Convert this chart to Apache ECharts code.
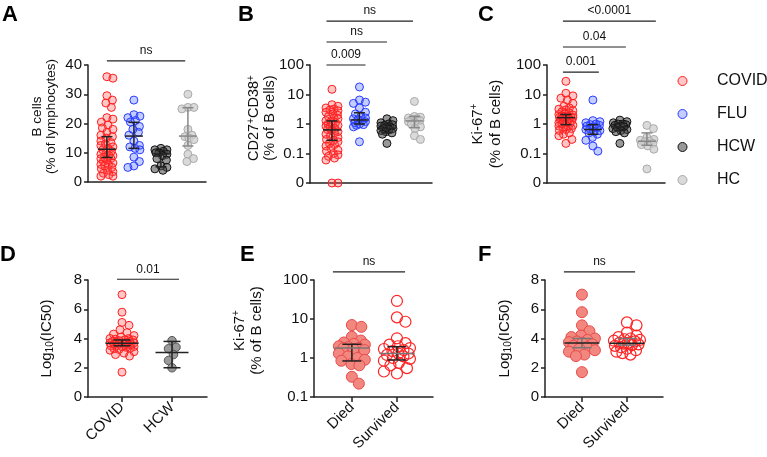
<!DOCTYPE html>
<html><head><meta charset="utf-8">
<script src="https://cdn.jsdelivr.net/npm/echarts@6/dist/echarts.min.js"></script>
<style>html,body{margin:0;padding:0;background:#fff}#c{width:767px;height:457px}</style>
</head><body><div id="c"></div>
<script>
// ---------------- DATA ----------------
const groupsABC = ['COVID', 'FLU', 'HCW', 'HC'];
const groupsD = ['COVID', 'HCW'];
const groupsEF = ['Died', 'Survived'];
const logTicksBC = ['0', '0.1', '1', '10', '100'];   // axis values -2..2
const logTicksE = ['0.1', '1', '10', '100'];         // axis values -1..2

// Panel A: B cells (% of lymphocytes)
const A_COVID = [36, 35.5, 29.5, 28, 27, 25.5, 22, 21.5, 20.5, 19.5, 18.5, 18, 17, 16, 15.5, 15, 14, 13.5, 13, 12.5, 12, 11.5, 11, 10.5, 10, 9.5, 9, 9, 8.5, 8, 8, 7.5, 7, 6.5, 6, 6, 5.5, 5, 4.5, 4, 3.5, 3, 2.5, 2, 2];
const A_FLU = [28, 23, 22.5, 22, 21, 20.5, 19, 18, 17, 16, 14, 12.5, 12, 11.5, 11, 8.5, 7, 5.5, 5];
const A_HCW = [11.5, 11, 11, 10.5, 10, 10, 9.5, 9, 8, 7.5, 5.5, 5, 4.5, 4];
const A_HC = [30, 25.5, 25.5, 25, 18, 16, 15.5, 15, 14.5, 12.5, 9.5, 8, 7];
const A_median = [11.2, 15.7, 9.6, 15.7];
const A_q1 = [8.4, 11.5, 5.2, 12.3];
const A_q3 = [15.5, 20.4, 10.8, 25.4];

// Panel B: CD27+CD38+ (% of B cells)
const B_COVID = [15, 4.5, 4, 3.5, 3.2, 3, 2.8, 2.5, 2.2, 2, 1.8, 1.6, 1.5, 1.3, 1.2, 1.1, 1.0, 0.95, 0.9, 0.85, 0.8, 0.7, 0.65, 0.6, 0.55, 0.5, 0.45, 0.4, 0.35, 0.3, 0.28, 0.25, 0.22, 0.2, 0.18, 0.15, 0.13, 0.12, 0.1, 0.09, 0.08, 0.07, 0.06, 0, 0];
const B_FLU = [18, 6.5, 5.5, 5, 3.5, 2.5, 2.2, 1.8, 1.6, 1.5, 1.4, 1.3, 1.2, 1.1, 1.0, 0.95, 0.9, 0.8, 0.25];
const B_HCW = [1.5, 1.3, 1.1, 1.0, 0.95, 0.9, 0.85, 0.8, 0.75, 0.7, 0.7, 0.65, 0.6, 0.55, 0.5, 0.45, 0.22];
const B_HC = [5.8, 1.8, 1.7, 1.6, 1.5, 1.4, 1.3, 1.2, 1.1, 1.0, 0.8, 0.7, 0.4, 0.3];
const B_median = [0.63, 1.37, 0.71, 1.27];
const B_q1 = [0.28, 1.0, 0.5, 0.75];
const B_q3 = [1.27, 2.4, 1.0, 1.8];

// Panel C: Ki-67+ (% of B cells)
const C_COVID = [28, 11, 9, 7.5, 6.5, 5, 4, 3.5, 3.2, 3, 2.8, 2.6, 2.4, 2.2, 2.1, 2.0, 1.9, 1.8, 1.8, 1.7, 1.7, 1.65, 1.6, 1.5, 1.45, 1.4, 1.3, 1.25, 1.2, 1.1, 1.05, 1.0, 0.95, 0.9, 0.85, 0.8, 0.75, 0.7, 0.65, 0.6, 0.5, 0.45, 0.4, 0.3, 0.22];
const C_FLU = [6.5, 1.3, 1.2, 1.1, 1.0, 0.95, 0.9, 0.85, 0.8, 0.75, 0.7, 0.65, 0.6, 0.55, 0.5, 0.45, 0.35, 0.28, 0.18, 0.12];
const C_HCW = [1.35, 1.2, 1.1, 1.0, 1.0, 0.95, 0.9, 0.85, 0.8, 0.75, 0.7, 0.65, 0.6, 0.55, 0.5, 0.22];
const C_HC = [0.9, 0.7, 0.35, 0.3, 0.28, 0.26, 0.25, 0.22, 0.2, 0.18, 0.14, 0.03];
const C_median = [1.64, 0.65, 0.8, 0.26];
const C_q1 = [0.95, 0.45, 0.6, 0.19];
const C_q3 = [2.1, 0.95, 1.05, 0.5];

// Panel D: Log10(IC50)
const D_COVID = [7.0, 5.8, 5.1, 4.9, 4.6, 4.4, 4.3, 4.2, 4.1, 4.0, 4.0, 3.95, 3.9, 3.9, 3.85, 3.8, 3.8, 3.75, 3.75, 3.7, 3.7, 3.7, 3.65, 3.6, 3.6, 3.6, 3.55, 3.5, 3.5, 3.45, 3.45, 3.4, 3.35, 3.3, 3.25, 3.2, 3.1, 3.0, 2.9, 2.8, 1.7];
const D_HCW = [3.85, 3.4, 3.3, 2.9, 2.5, 2.0];
const D_median = [3.67, 3.05];
const D_q1 = [3.5, 2.0];
const D_q3 = [3.9, 3.8];

// Panel E: Ki-67+ (% of B cells), COVID outcome
const E_DIED = [7.0, 6.3, 3.5, 2.8, 2.5, 2.3, 2.2, 2.0, 1.9, 1.8, 1.8, 1.7, 1.6, 1.3, 1.1, 1.0, 0.9, 0.85, 0.7, 0.65, 0.33, 0.22];
const E_SURV = [29, 11, 8.5, 3.2, 2.4, 2.2, 2.0, 1.8, 1.7, 1.6, 1.5, 1.3, 1.3, 1.2, 1.1, 1.0, 0.95, 0.85, 0.75, 0.65, 0.55, 0.45, 0.4];
const E_median = [1.8, 1.3];
const E_q1 = [0.84, 0.89];
const E_q3 = [2.25, 1.95];

// Panel F: Log10(IC50), COVID outcome
const F_DIED = [7.0, 5.8, 4.9, 4.5, 4.2, 4.1, 4.0, 3.9, 3.8, 3.75, 3.7, 3.6, 3.5, 3.4, 3.3, 3.2, 3.1, 2.9, 2.8, 1.7];
const F_SURV = [5.1, 4.9, 4.4, 4.2, 4.1, 4.0, 3.95, 3.9, 3.85, 3.8, 3.7, 3.7, 3.65, 3.6, 3.55, 3.5, 3.4, 3.3, 3.2, 3.1, 3.0, 2.9];
const F_median = [3.7, 3.67];
const F_q1 = [3.37, 3.55];
const F_q3 = [4.0, 4.0];

// Significance brackets (x in group units, level in axis units)
const A_brFrom = [1.0], A_brTo = [3.9], A_brLevel = [41.4], A_brText = ['ns'];
const B_brFrom = [0.8, 0.8, 0.8], B_brTo = [3.95, 3.0, 2.22], B_brLevel = [3.49, 2.78, 2.0], B_brText = ['ns', 'ns', '0.009'];
const C_brFrom = [0.89, 0.89, 0.89], C_brTo = [4.33, 3.22, 2.22], C_brLevel = [3.49, 2.61, 1.76], C_brText = ['<0.0001', '0.04', '0.001'];
const D_brFrom = [0.9], D_brTo = [2.14], D_brLevel = [8.05], D_brText = ['0.01'];
const E_brFrom = [0.58], E_brTo = [2.18], E_brLevel = [2.21], E_brText = ['ns'];
const F_brFrom = [0.6], F_brTo = [2.18], F_brLevel = [8.55], F_brText = ['ns'];

// ---------------- STYLE ----------------
const FONT = '"Liberation Sans", Arial, Helvetica, sans-serif';
const AX = '#222';
const STY = {
  covid: { fill: 'rgba(255,70,70,0.30)', stroke: '#ff1f1f', size: 8, bw: 1 },
  flu: { fill: 'rgba(60,90,255,0.30)', stroke: '#2a3cff', size: 8, bw: 1 },
  hcw: { fill: 'rgba(70,70,70,0.55)', stroke: '#111', size: 8, bw: 1 },
  hc: { fill: 'rgba(205,205,205,0.75)', stroke: '#aaa', size: 8, bw: 1 },
  hcwD: { fill: '#9a9a9a', stroke: '#555', size: 8.5, bw: 1 },
  died: { fill: '#f2877f', stroke: '#e84b4b', size: 11, bw: 1 },
  surv: { fill: 'rgba(255,255,255,0)', stroke: '#ff2424', size: 11, bw: 1.2 }
};
const lin = v => v;
const lg = v => (v <= 0 ? -2 : Math.log10(v));

function richName(fs, lh) {
  return {
    t: { fontSize: fs, fontFamily: FONT, color: '#111', lineHeight: lh },
    s: { fontSize: 10, fontFamily: FONT, color: '#111', lineHeight: lh, verticalAlign: 'top', padding: [0, 0, 6, 0] },
    b: { fontSize: 10, fontFamily: FONT, color: '#111', lineHeight: lh, verticalAlign: 'bottom', padding: [6, 0, 0, 0] }
  };
}

const panels = [
  { grid: { left: 88, top: 65, width: 118, height: 117 }, xr: [0.3, 4.67], y: [0, 40, 10], tf: lin, ticks: null,
    name: '{t|B cells}\n{t|(% of lymphocytes)}', nfs: [13.5, 14], gap: 30, shift: 14, cats: null,
    groups: [[A_COVID, 'covid', 'COVID'], [A_FLU, 'flu', 'FLU'], [A_HCW, 'hcw', 'HCW'], [A_HC, 'hc', 'HC']],
    stats: [A_median, A_q1, A_q3], ebCol: [['#222', '#222'], ['#222', '#222'], ['#222', '#222'], ['#888', '#888']], eb: [9, 5.5],
    br: [A_brFrom, A_brTo, A_brLevel, A_brText], sw: [7, 6] },
  { grid: { left: 310, top: 65, width: 122, height: 118 }, xr: [0.2, 4.64], y: [-2, 2, 1], tf: lg, ticks: logTicksBC, tickBase: -2,
    name: '{t|CD27}{s|+}{t|CD38}{s|+}\n{t|(% of B cells)}', nfs: [14.5, 16], gap: 32, shift: 12, cats: null,
    groups: [[B_COVID, 'covid', 'B-COVID'], [B_FLU, 'flu', 'B-FLU'], [B_HCW, 'hcw', 'B-HCW'], [B_HC, 'hc', 'B-HC']],
    stats: [B_median, B_q1, B_q3], ebCol: [['#222', '#222'], ['#222', '#222'], ['#222', '#222'], ['#888', '#888']], eb: [9, 5.5],
    br: [B_brFrom, B_brTo, B_brLevel, B_brText], sw: [7, 6] },
  { grid: { left: 547, top: 65, width: 118, height: 118 }, xr: [0.3, 4.67], y: [-2, 2, 1], tf: lg, ticks: logTicksBC, tickBase: -2,
    name: '{t|Ki-67}{s|+}\n{t|(% of B cells)}', nfs: [15, 18], gap: 42, shift: 0, cats: null,
    groups: [[C_COVID, 'covid', 'C-COVID'], [C_FLU, 'flu', 'C-FLU'], [C_HCW, 'hcw', 'C-HCW'], [C_HC, 'hc', 'C-HC']],
    stats: [C_median, C_q1, C_q3], ebCol: [['#222', '#222'], ['#222', '#222'], ['#222', '#222'], ['#888', '#888']], eb: [9, 5.5],
    br: [C_brFrom, C_brTo, C_brLevel, C_brText], sw: [7, 7] },
  { grid: { left: 88, top: 280, width: 119, height: 117 }, xr: [0.32, 2.7], y: [0, 8, 2], tf: lin, ticks: null,
    name: '{t|Log}{b|10}{t|(IC50)}', nfs: [15, 17], gap: 33, shift: 0, cats: groupsD,
    groups: [[D_COVID, 'covid', 'D-COVID'], [D_HCW, 'hcwD', 'D-HCW']],
    stats: [D_median, D_q1, D_q3], ebCol: [['#222', '#222'], ['#222', '#222']], eb: [16.5, 8.5],
    br: [D_brFrom, D_brTo, D_brLevel, D_brText], sw: [7.5, 12] },
  { grid: { left: 314, top: 280, width: 119, height: 117 }, xr: [0.16, 2.8], y: [-1, 2, 1], tf: lg, ticks: logTicksE, tickBase: -1,
    name: '{t|Ki-67}{s|+}\n{t|(% of B cells)}', nfs: [15, 17], gap: 49, shift: 16, cats: groupsEF,
    groups: [[E_DIED, 'died', 'E-Died'], [E_SURV, 'surv', 'E-Survived']],
    stats: [E_median, E_q1, E_q3], ebCol: [['#777', '#222'], ['#777', '#222']], eb: [17.5, 9.5],
    br: [E_brFrom, E_brTo, E_brLevel, E_brText], sw: [9.5, 13] },
  { grid: { left: 545, top: 280, width: 118, height: 117 }, xr: [0.18, 2.8], y: [0, 8, 2], tf: lin, ticks: null,
    name: '{t|Log}{b|10}{t|(IC50)}', nfs: [15, 17], gap: 32, shift: 0, cats: groupsEF,
    groups: [[F_DIED, 'died', 'F-Died'], [F_SURV, 'surv', 'F-Survived']],
    stats: [F_median, F_q1, F_q3], ebCol: [['#222', '#777'], ['#222', '#777']], eb: [17.5, 9.5],
    br: [F_brFrom, F_brTo, F_brLevel, F_brText], sw: [9.5, 13] }
];

// ---------------- BUILD ----------------
const grids = [], xAxes = [], yAxes = [], series = [];
panels.forEach((p, g) => {
  grids.push(Object.assign({ containLabel: false, outerBoundsMode: 'none' }, p.grid));
  const lineStyle = { color: AX, width: 1.5 };
  const xa = { type: 'value', gridIndex: g, min: p.xr[0], max: p.xr[1], splitLine: { show: false },
    axisLine: { show: true, onZero: false, lineStyle } };
  if (p.cats) {
    const cv = p.cats.map((c, i) => i + 1);
    xa.axisTick = { show: true, customValues: cv, length: 5, lineStyle };
    xa.axisLabel = { show: true, customValues: cv, formatter: v => p.cats[Math.round(v) - 1] || '', rotate: 45,
      fontSize: 15, fontFamily: FONT, color: '#111', margin: 8 };
  } else {
    xa.axisTick = { show: false };
    xa.axisLabel = { show: false };
  }
  xAxes.push(xa);
  yAxes.push({ type: 'value', gridIndex: g, min: p.y[0], max: p.y[1], interval: p.y[2], splitLine: { show: false },
    axisLine: { show: true, onZero: false, lineStyle }, axisTick: { show: true, length: 4, lineStyle },
    axisLabel: { fontSize: 15, fontFamily: FONT, color: '#111', margin: 6,
      formatter: v => (p.ticks ? p.ticks[Math.round(v - p.tickBase)] : String(v)) },
    name: p.name, nameLocation: 'middle', nameRotate: 90, nameGap: p.gap, nameMoveOverlap: false,
    nameTextStyle: { rich: richName(p.nfs[0], p.nfs[1]), padding: [0, 0, 0, p.shift], fontSize: p.nfs[0], fontFamily: FONT, color: '#111' } });

  p.groups.forEach((gr, k) => {
    const st = STY[gr[1]];
    series.push({ id: 'pts' + g + '_' + k, name: gr[2], type: 'scatter', xAxisIndex: g, yAxisIndex: g,
      symbol: 'circle', symbolSize: st.size, clip: false, z: 3,
      itemStyle: { color: st.fill, borderColor: st.stroke, borderWidth: st.bw, opacity: 1 },
      emphasis: { disabled: true },
      data: gr[0].map(v => [k + 1, p.tf(v)]) });
  });

  // median + IQR error bars
  const ebData = p.stats[0].map((m, k) => [k + 1, p.tf(m), p.tf(p.stats[1][k]), p.tf(p.stats[2][k]), k]);
  series.push({ type: 'custom', xAxisIndex: g, yAxisIndex: g, z: 6, clip: false, silent: true, data: ebData,
    renderItem: (params, api) => {
      const x = api.value(0), k = api.value(4);
      const pm = api.coord([x, api.value(1)]), p1 = api.coord([x, api.value(2)]), p3 = api.coord([x, api.value(3)]);
      const mw = p.eb[0], cw = p.eb[1];
      const cm = p.ebCol[k][0], cb = p.ebCol[k][1];
      const L = (x1, y1, x2, y2, c) => ({ type: 'line', shape: { x1, y1, x2, y2 }, style: { stroke: c, lineWidth: 1.5 } });
      return { type: 'group', children: [
        L(p1[0], p1[1], p3[0], p3[1], cb),
        L(p1[0] - cw, p1[1], p1[0] + cw, p1[1], cb),
        L(p3[0] - cw, p3[1], p3[0] + cw, p3[1], cb),
        L(pm[0] - mw, pm[1], pm[0] + mw, pm[1], cm)
      ] };
    } });

  // significance brackets
  const brData = p.br[0].map((f, i) => [f, p.br[1][i], p.br[2][i], i]);
  series.push({ type: 'custom', xAxisIndex: g, yAxisIndex: g, z: 6, clip: false, silent: true, data: brData,
    renderItem: (params, api) => {
      const a = api.coord([api.value(0), api.value(2)]), b = api.coord([api.value(1), api.value(2)]);
      const txt = p.br[3][api.value(3)];
      return { type: 'group', children: [
        { type: 'line', shape: { x1: a[0], y1: a[1], x2: b[0], y2: b[1] }, style: { stroke: '#222', lineWidth: 1.2 } },
        { type: 'text', x: (a[0] + b[0]) / 2, y: a[1] - 4,
          style: { text: txt, fontSize: 12, fontFamily: FONT, fill: '#111', align: 'center', verticalAlign: 'bottom' } }
      ] };
    } });
});

const letters = [['A', 2, 4], ['B', 238, 4], ['C', 478, 4], ['D', 0, 244], ['E', 240, 244], ['F', 478, 244]];

const option = {
  animation: false,
  backgroundColor: '#fff',
  grid: grids, xAxis: xAxes, yAxis: yAxes, series,
  legend: { data: groupsABC, orient: 'vertical', left: 677.5, top: 72, padding: 0, itemWidth: 9, itemHeight: 9, itemGap: 15,
    icon: 'circle', selectedMode: false, itemStyle: { borderWidth: 1 },
    textStyle: { fontSize: 16, fontFamily: FONT, color: '#111', lineHeight: 18, padding: [0, 0, 0, 25] } },
  graphic: letters.map(l => ({ type: 'text', left: l[1], top: l[2],
    style: { text: l[0], fontSize: 22, fontWeight: 'bold', fontFamily: FONT, fill: '#000' } }))
};

const chart = echarts.init(document.getElementById('c'), null, { renderer: 'canvas' });
chart.setOption(option);

// ---------------- BEESWARM LAYOUT (horizontal spread only) ----------------
function swarm(ys, d, maxW) {
  const order = ys.map((y, i) => i).sort((a, b) => ys[a] - ys[b]);
  const placed = [], out = new Array(ys.length).fill(0);
  for (const i of order) {
    const y = ys[i];
    let bestX = 0, bestScore = -Infinity;
    for (let k = 0; k <= maxW * 4 + 1; k++) {
      const c = (k % 2 ? 1 : -1) * Math.ceil(k / 2) * 0.5;
      if (Math.abs(c) > maxW) continue;
      let minD = Infinity;
      for (const q of placed) { const dd = Math.hypot(q.x - c, q.y - y); if (dd < minD) minD = dd; }
      if (minD >= d) { bestX = c; break; }
      if (minD > bestScore) { bestScore = minD; bestX = c; }
    }
    placed.push({ x: bestX, y }); out[i] = bestX;
  }
  return out;
}
const upd = [];
panels.forEach((p, g) => {
  p.groups.forEach((gr, k) => {
    const xc = k + 1;
    const ys = gr[0].map(v => chart.convertToPixel({ gridIndex: g }, [xc, p.tf(v)])[1]);
    const ppu = chart.convertToPixel({ gridIndex: g }, [xc + 1, 0])[0] - chart.convertToPixel({ gridIndex: g }, [xc, 0])[0];
    const dx = swarm(ys, p.sw[0], p.sw[1]);
    upd.push({ id: 'pts' + g + '_' + k, data: gr[0].map((v, i) => [xc + dx[i] / ppu, p.tf(v)]) });
  });
});
chart.setOption({ series: upd });
</script></body></html>
